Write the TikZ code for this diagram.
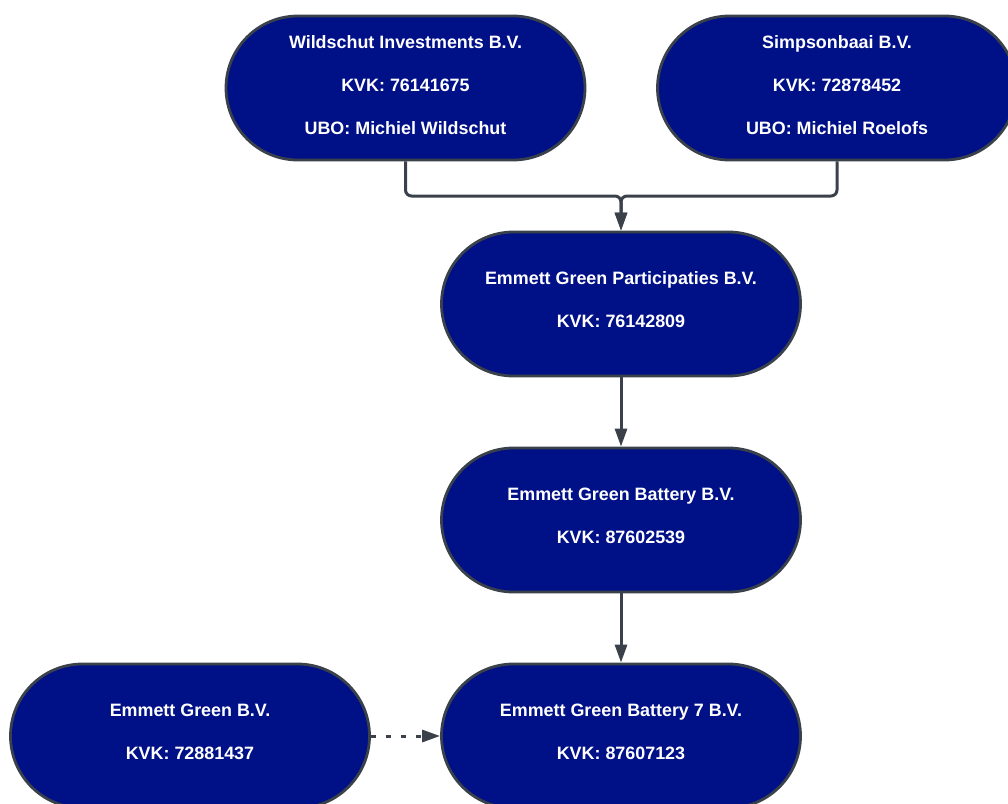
\documentclass[tikz,border=0pt]{standalone}
\usepackage{fontspec}
\setmainfont{Liberation Sans}
\usetikzlibrary{arrows.meta}
\definecolor{navy}{RGB}{0,16,134}
\definecolor{edge}{RGB}{58,65,75}
\tikzset{
  entity/.style={draw=edge, line width=2.8pt, fill=navy,
    minimum width=359pt, minimum height=144pt, rounded corners=72pt,
    inner sep=0pt},
  label/.style={text=white, align=center, inner sep=0pt,
    font=\bfseries\fontsize{17.9}{43}\selectfont},
  link/.style={draw=edge, line width=3pt, rounded corners=6pt,
    -{Triangle[width=12pt,length=18pt]}},
  dashlink/.style={draw=edge, line width=3pt, dash pattern=on 5pt off 10pt,
    -{Triangle[width=12pt,length=18pt]}}
}
\begin{document}
\begin{tikzpicture}[x=1pt,y=-1pt]
\useasboundingbox (0,0) rectangle (1008,803);
\node[entity] (W) at (405.5,88) {};
\node[label] (Wt) at (405.5,85) {Wildschut Investments B.V.\\KVK: 76141675\\UBO: Michiel Wildschut};
\node[entity] (S) at (837,88) {};
\node[label] (St) at (837,85) {Simpsonbaai B.V.\\KVK: 72878452\\UBO: Michiel Roelofs};
\node[entity] (P) at (621,304) {};
\node[label] (Pt) at (621,300) {Emmett Green Participaties B.V.\\KVK: 76142809};
\node[entity] (B) at (621,520) {};
\node[label] (Bt) at (621,516) {Emmett Green Battery B.V.\\KVK: 87602539};
\node[entity] (B7) at (621,736) {};
\node[label] (B7t) at (621,732) {Emmett Green Battery 7 B.V.\\KVK: 87607123};
\node[entity] (E) at (190,736) {};
\node[label] (Et) at (190,732) {Emmett Green B.V.\\KVK: 72881437};
\coordinate (J) at (621,196);
\draw[link] (W.south) -- (W.south |- J) -| (P.north);
\draw[link] (S.south) -- (S.south |- J) -| (P.north);
\draw[link] (P.south) -- (B.north);
\draw[link] (B.south) -- (B7.north);
\draw[dashlink] (E.east) -- (B7.west);
\end{tikzpicture}
\end{document}
